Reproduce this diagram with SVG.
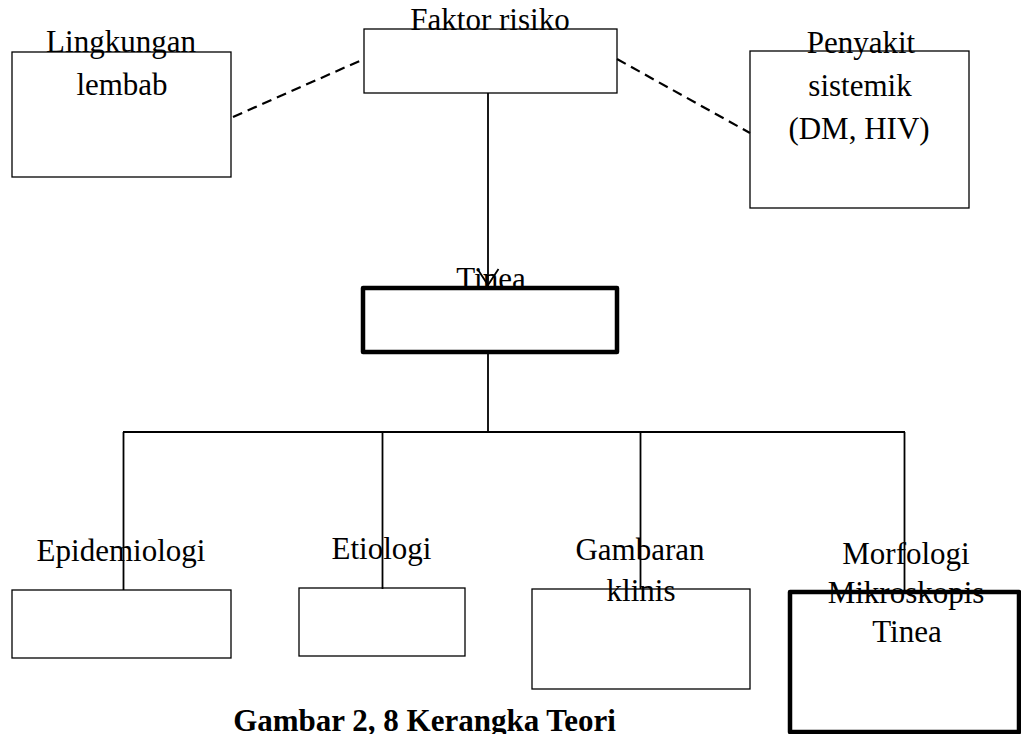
<svg xmlns="http://www.w3.org/2000/svg" width="1021" height="734" viewBox="0 0 1021 734">
<style>
.box{fill:#fff;stroke:#000;stroke-width:1.3}
.thick{fill:none;stroke:#000;stroke-width:4.5;stroke-linejoin:round}
.ln{fill:none;stroke:#000;stroke-width:1.8}
.dash{fill:none;stroke:#000;stroke-width:2.2;stroke-dasharray:10 6}
text{font-family:"Liberation Serif","Times New Roman",serif;font-size:31px;fill:#000;text-anchor:middle}
.cap{font-weight:bold;font-size:31px}
</style>
<rect width="1021" height="734" fill="#fff"/>
<g id="n-lingkungan">
<rect class="box" x="12" y="52" width="219" height="125"/>
<text x="121" y="52">Lingkungan</text>
<text x="122" y="95">lembab</text>
</g>
<g id="n-faktor">
<rect class="box" x="364" y="29" width="253" height="64"/>
<text x="490" y="30">Faktor risiko</text>
</g>
<g id="n-penyakit">
<rect class="box" x="750" y="51" width="219" height="157"/>
<text x="861" y="53">Penyakit</text>
<text x="860" y="96">sistemik</text>
<text x="859" y="139">(DM, HIV)</text>
</g>
<g id="n-tinea">
<rect class="thick" x="363" y="288" width="254" height="64"/>
<text x="491" y="289">Tinea</text>
</g>
<g id="n-epidemiologi">
<rect class="box" x="12" y="590" width="219" height="68"/>
<text x="121" y="561">Epidemiologi</text>
</g>
<g id="n-etiologi">
<rect class="box" x="299" y="588" width="166" height="68"/>
<text x="381.5" y="559">Etiologi</text>
</g>
<g id="n-gambaran">
<rect class="box" x="532" y="589" width="218" height="100"/>
<text x="640" y="560">Gambaran</text>
<text x="641" y="601">klinis</text>
</g>
<g id="n-morfologi">
<rect class="thick" x="790" y="592" width="229" height="140"/>
<text x="906" y="564">Morfologi</text>
<text x="906" y="603">Mikroskopis</text>
<text x="907" y="642">Tinea</text>
</g>
<g id="connectors">
<line class="dash" x1="233" y1="117" x2="364" y2="59"/>
<line class="dash" x1="617" y1="59" x2="750" y2="133"/>
<line class="ln" x1="488" y1="93" x2="488" y2="286"/>
<path class="ln" d="M477.5 269 L488 285 L498.5 269"/>
<line class="ln" x1="488" y1="352" x2="488" y2="432"/>
<line class="ln" x1="123" y1="432" x2="905" y2="432"/>
<line class="ln" x1="123.5" y1="432" x2="123.5" y2="590"/>
<line class="ln" x1="382.5" y1="432" x2="382.5" y2="589"/>
<line class="ln" x1="640.5" y1="432" x2="640.5" y2="589"/>
<line class="ln" x1="904.5" y1="432" x2="904.5" y2="592"/>
</g>
<text class="cap" x="424.5" y="731">Gambar 2, 8 Kerangka Teori</text>
</svg>
